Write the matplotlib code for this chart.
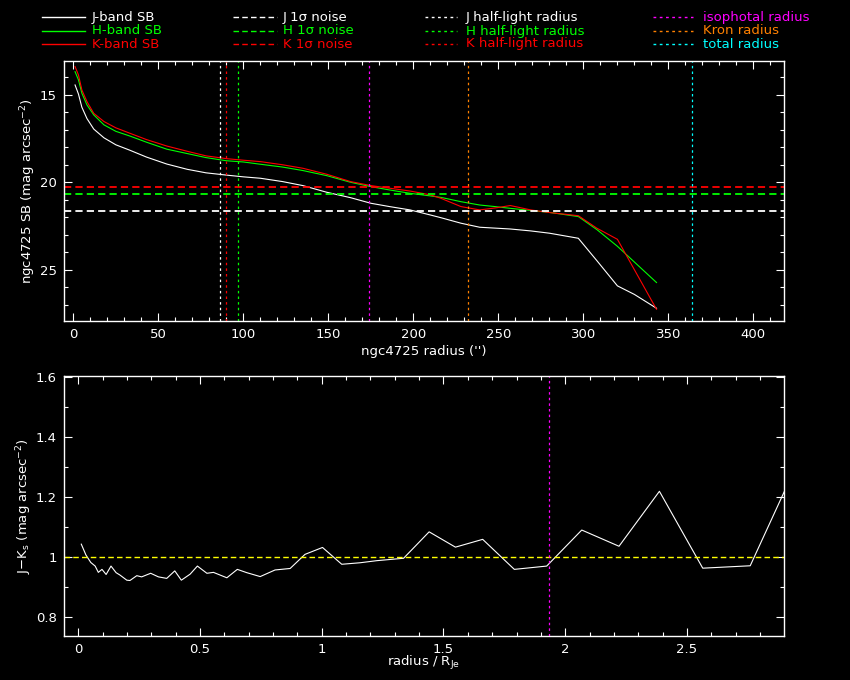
import matplotlib
matplotlib.use("Agg")
import matplotlib.pyplot as plt
from matplotlib.lines import Line2D
from matplotlib.ticker import MultipleLocator

# ---- surface-brightness profiles (mag arcsec^-2), common radius grid (arcsec)
radius = [1, 3, 5, 8, 12, 18, 25, 33, 43, 55, 67, 78, 90, 100, 110, 123, 135,
          149, 163, 175, 186, 198, 210, 216, 228, 239, 248, 257, 269, 280, 297,
          308, 320, 330, 343]
sb_j = [14.43, 14.95, 15.70, 16.35, 16.95, 17.45, 17.85, 18.15, 18.55, 18.95,
        19.25, 19.45, 19.58, 19.68, 19.76, 19.95, 20.18, 20.56, 20.87, 21.19,
        21.38, 21.57, 21.86, 22.01, 22.33, 22.56, 22.61, 22.66, 22.77, 22.90,
        23.19, 24.48, 25.91, 26.40, 27.19]
sb_h = [13.67, 14.14, 14.90, 15.57, 16.14, 16.71, 17.08, 17.34, 17.70, 18.10,
        18.35, 18.58, 18.76, 18.83, 18.96, 19.12, 19.32, 19.61, 19.99, 20.24,
        20.43, 20.62, 20.77, 20.85, 21.10, 21.29, 21.38, 21.48, 21.60, 21.71,
        21.95, 22.70, 23.65, 24.55, 25.72]
sb_k = [13.38, 13.86, 14.71, 15.38, 16.05, 16.52, 16.88, 17.18, 17.55, 17.92,
        18.22, 18.48, 18.64, 18.73, 18.81, 18.99, 19.19, 19.53, 19.95, 20.18,
        20.33, 20.49, 20.71, 20.90, 21.38, 21.57, 21.46, 21.32, 21.57, 21.72,
        21.90, 22.62, 23.25, 24.99, 27.25]

# 1-sigma noise levels
noise_j, noise_h, noise_k = 21.65, 20.68, 20.28

# characteristic radii (arcsec)
r_half_j, r_half_h, r_half_k = 86.5, 97.1, 90.0
r_iso, r_kron, r_total = 174.1, 231.9, 364.1

# ---- J-Ks colour profile vs normalised radius
r_norm = [0.012, 0.031, 0.051, 0.069, 0.082, 0.097, 0.114, 0.134, 0.155, 0.171,
          0.199, 0.212, 0.240, 0.260, 0.297, 0.329, 0.363, 0.396, 0.423, 0.459,
          0.489, 0.528, 0.555, 0.610, 0.653, 0.692, 0.747, 0.808, 0.870, 0.931,
          1.003, 1.082, 1.157, 1.226, 1.336, 1.441, 1.549, 1.661, 1.791, 1.924,
          2.068, 2.221, 2.387, 2.565, 2.760, 2.900]
colour_jk = [1.044, 1.008, 0.983, 0.971, 0.950, 0.960, 0.943, 0.971, 0.949, 0.941,
             0.924, 0.923, 0.939, 0.935, 0.947, 0.935, 0.930, 0.955, 0.924, 0.944,
             0.971, 0.947, 0.950, 0.932, 0.960, 0.949, 0.936, 0.958, 0.963, 1.010,
             1.033, 0.977, 0.982, 0.989, 0.997, 1.085, 1.034, 1.060, 0.960, 0.971,
             1.091, 1.037, 1.220, 0.964, 0.972, 1.219]
colour_ref = 1.0
r_iso_norm = 1.935

WHITE, GREEN, RED = "#ffffff", "#00ff00", "#ff0000"
MAGENTA, ORANGE, CYAN, YELLOW = "#ff00ff", "#ff8000", "#00ffff", "#ffff00"
DASH = (0, (4, 2.3))
DOT = (0, (2, 2.5))

plt.rcParams["font.family"] = "DejaVu Sans"
plt.rcParams["font.size"] = 9.5

fig = plt.figure(figsize=(8.5, 6.8), dpi=100, facecolor="black")
ax1 = fig.add_axes([0.0753, 0.5284, 0.8471, 0.3819])
ax2 = fig.add_axes([0.0753, 0.0651, 0.8471, 0.3824])

for ax in (ax1, ax2):
    ax.set_facecolor("black")
    for s in ax.spines.values():
        s.set_color("white")
        s.set_linewidth(1.0)
    ax.tick_params(which="both", direction="in", top=True, right=True,
                   colors="white", labelcolor="white", width=0.8)
    ax.tick_params(which="major", length=6, pad=5)
    ax.tick_params(which="minor", length=3)

# ---- top panel: SB profiles
ax1.plot(radius, sb_j, color=WHITE, lw=0.8)
ax1.plot(radius, sb_h, color=GREEN, lw=0.8)
ax1.plot(radius, sb_k, color=RED, lw=0.8)

ax1.axhline(noise_j, color=WHITE, ls=DASH, lw=1.3)
ax1.axhline(noise_h, color=GREEN, ls=DASH, lw=1.3)
ax1.axhline(noise_k, color=RED, ls=DASH, lw=1.3)

for x, c in [(r_half_j, WHITE), (r_half_k, RED), (r_half_h, GREEN),
             (r_iso, MAGENTA), (r_kron, ORANGE), (r_total, CYAN)]:
    ax1.axvline(x, color=c, ls=DOT, lw=0.9)

ax1.set_xlim(-5.5, 418)
ax1.set_ylim(27.9, 13.06)
ax1.xaxis.set_major_locator(MultipleLocator(50))
ax1.xaxis.set_minor_locator(MultipleLocator(10))
ax1.yaxis.set_major_locator(MultipleLocator(5))
ax1.yaxis.set_minor_locator(MultipleLocator(1))
ax1.set_xlabel("ngc4725 radius ('')", color="white")
ax1.set_ylabel("ngc4725 SB (mag arcsec$^{-2}$)", color="white")
ax1.xaxis.set_label_coords(0.5, -0.095)
ax1.yaxis.set_label_coords(-0.036, 0.5)

# ---- bottom panel: J-Ks colour
ax2.plot(r_norm, colour_jk, color=WHITE, lw=0.8)
ax2.axhline(colour_ref, color=YELLOW, ls=DASH, lw=1.0)
ax2.axvline(r_iso_norm, color=MAGENTA, ls=DOT, lw=0.9)
ax2.set_xlim(-0.059, 2.899)
ax2.set_ylim(0.739, 1.605)
ax2.xaxis.set_major_locator(MultipleLocator(0.5))
ax2.xaxis.set_minor_locator(MultipleLocator(0.1))
ax2.yaxis.set_major_locator(MultipleLocator(0.2))
ax2.yaxis.set_minor_locator(MultipleLocator(0.1))
ax2.xaxis.set_major_formatter(plt.FuncFormatter(lambda v, p: f"{v:g}"))
ax2.yaxis.set_major_formatter(plt.FuncFormatter(lambda v, p: f"{v:g}"))
ax2.set_xlabel("radius / R$_{\\mathrm{Je}}$", color="white")
ax2.set_ylabel("J$-$K$_\\mathrm{s}$ (mag arcsec$^{-2}$)", color="white")
ax2.xaxis.set_label_coords(0.5, -0.072)
ax2.yaxis.set_label_coords(-0.042, 0.5)

# ---- legend block across the top of the figure
W, H = 850.0, 680.0
rows_y = [17, 31, 44]
columns = [
    (42, 85, 92, "-", [("J-band SB", WHITE), ("H-band SB", GREEN), ("K-band SB", RED)]),
    (233, 277, 283, DASH, [("J 1σ noise", WHITE), ("H 1σ noise", GREEN), ("K 1σ noise", RED)]),
    (425, 457, 466, DOT, [("J half-light radius", WHITE), ("H half-light radius", GREEN),
                          ("K half-light radius", RED)]),
    (653, 693, 703, DOT, [("isophotal radius", MAGENTA), ("Kron radius", ORANGE),
                          ("total radius", CYAN)]),
]
for x0, x1, xt, ls, entries in columns:
    for y, (label, c) in zip(rows_y, entries):
        yf = 1 - y / H
        fig.add_artist(Line2D([x0 / W, x1 / W], [yf, yf], transform=fig.transFigure,
                              color=c, ls=ls, lw=1.0))
        fig.text(xt / W, yf, label, color=c, va="center", ha="left")

fig.savefig("out.png", dpi=100, facecolor="black")
